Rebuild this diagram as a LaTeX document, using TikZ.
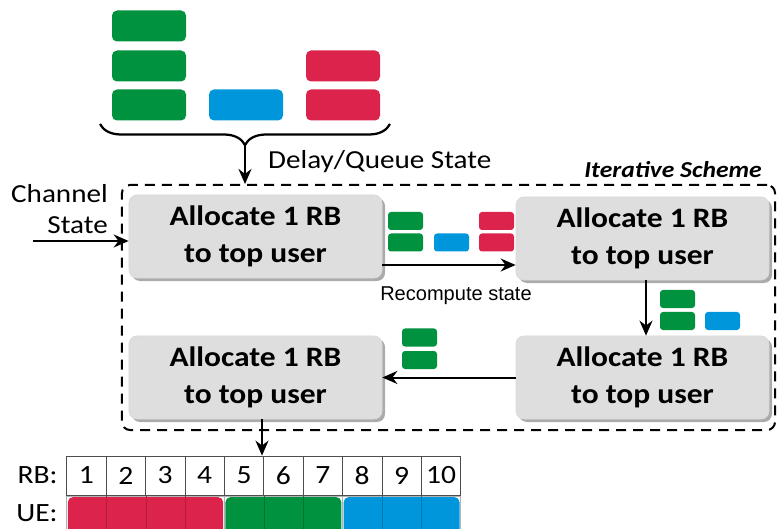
\documentclass[tikz,border=0pt]{standalone}
\usepackage{fontspec}
\setmainfont[FakeStretch=1.12]{Carlito}
\newfontfamily\arialfont{Liberation Sans}
\usetikzlibrary{positioning,arrows.meta,shadows,decorations.pathreplacing}
\definecolor{ugreen}{RGB}{0,146,63}
\definecolor{ublue}{RGB}{0,150,220}
\definecolor{ured}{RGB}{220,35,75}
\definecolor{boxgray}{RGB}{222,222,222}

\begin{document}
\begin{tikzpicture}
	[	x=0.2mm,y=-0.2mm,
	box/.style={rectangle,rounded corners=1.6mm,draw=gray!30,fill=boxgray,minimum width=50.6mm,minimum height=16.6mm,align=center,font=\fontsize{16}{20.8}\selectfont\bfseries,drop shadow={shadow xshift=0.6mm,shadow yshift=-0.6mm,fill=black!55,opacity=.6}},
	blk/.style={rectangle,rounded corners=1mm,minimum width=14.8mm,minimum height=6.2mm,inner sep=0pt},
	sblk/.style={rectangle,rounded corners=0.6mm,minimum width=7mm,minimum height=3.6mm,inner sep=0pt},
	cell/.style={rectangle,draw=gray!60!black,minimum width=7.88mm,minimum height=7.8mm,inner sep=0pt,font=\fontsize{15}{18}\selectfont},
	uecell/.style={rectangle,draw=gray!60,minimum width=7.88mm,minimum height=8mm,inner sep=0pt},
	plain/.style={draw=none,fill=none,font=\fontsize{14.8}{17.8}\selectfont},
	arr/.style={-{Stealth[length=3mm,width=2.6mm]},line width=0.4mm},
	frame/.style={draw,dash pattern=on 2mm off 1.4mm,line width=0.4mm,rounded corners=1.6mm,minimum width=130.6mm,minimum height=49mm}
	]
	\useasboundingbox (0,0) rectangle (777,529);

	% queue state on top
	\node[blk,fill=ugreen] (qg1) at (149,26){};
	\node[blk,fill=ugreen] (qg2) at (149,66){};
	\node[blk,fill=ugreen] (qg3) at (149,105){};
	\node[blk,fill=ublue] (qb1) at (246,105){};
	\node[blk,fill=ured] (qr1) at (343,66){};
	\node[blk,fill=ured] (qr2) at (343,105){};
	\coordinate (bl) at (100,124);
	\coordinate (br) at (390,124);
	\coordinate (tip) at (245,146);
	\draw[line width=0.45mm,decorate,decoration={brace,mirror,amplitude=4.2mm}] (bl) -- (br);

	\node[frame] (scheme) at (448.5,307.5){};
	\node[plain,anchor=west] (delay) at (262,162){Delay/Queue State};
	\node[plain,anchor=east,font=\fontsize{13}{15}\selectfont\bfseries\itshape] (iter) at (768,170){Iterative Scheme};
	\node[plain,anchor=east,align=right] (chan) at (114,209){Channel\\State};
	\coordinate (chin) at (33,241);

	\node[box] (box1) at (255.5,236.5){Allocate 1 RB\\to top user};
	\node[box] (box2) at (642.5,238.5){Allocate 1 RB\\to top user};
	\node[box] (box3) at (642.5,377.5){Allocate 1 RB\\to top user};
	\node[box] (box4) at (255.5,377.5){Allocate 1 RB\\to top user};

	% recomputed states
	\node[sblk,fill=ugreen] (ag1) at (405.5,221){};
	\node[sblk,fill=ugreen] (ag2) at (405.5,242.5){};
	\node[sblk,fill=ublue] (ab1) at (451.5,242.5){};
	\node[sblk,fill=ured] (ar1) at (496.5,221){};
	\node[sblk,fill=ured] (ar2) at (496.5,242.5){};
	\node[sblk,fill=ugreen] (bg1) at (677.5,299){};
	\node[sblk,fill=ugreen] (bg2) at (677.5,321){};
	\node[sblk,fill=ublue] (bb1) at (722.5,321){};
	\node[sblk,fill=ugreen] (cg1) at (419.5,337.5){};
	\node[sblk,fill=ugreen] (cg2) at (419.5,360){};
	\node[plain,font=\arialfont\fontsize{11.4}{13}\selectfont] (recomp) at (456,296){Recompute state};

	% resource blocks
	\node[cell] (rb1) at (86.4,475.5){1};
	\node[cell] (rb2) at (125.8,475.5){2};
	\node[cell] (rb3) at (165.2,475.5){3};
	\node[cell] (rb4) at (204.6,475.5){4};
	\node[cell] (rb5) at (244,475.5){5};
	\node[cell] (rb6) at (283.4,475.5){6};
	\node[cell] (rb7) at (322.8,475.5){7};
	\node[cell] (rb8) at (362.2,475.5){8};
	\node[cell] (rb9) at (401.6,475.5){9};
	\node[cell] (rb10) at (441,475.5){10};

	\node[uecell] (ue1) at (86.4,516){};
	\node[uecell] (ue2) at (125.8,516){};
	\node[uecell] (ue3) at (165.2,516){};
	\node[uecell] (ue4) at (204.6,516){};
	\node[uecell] (ue5) at (244,516){};
	\node[uecell] (ue6) at (283.4,516){};
	\node[uecell] (ue7) at (322.8,516){};
	\node[uecell] (ue8) at (362.2,516){};
	\node[uecell] (ue9) at (401.6,516){};
	\node[uecell] (ue10) at (441,516){};
	\fill[ured,rounded corners=1mm] ([xshift=0.3mm,yshift=-0.3mm]ue1.north west) rectangle ([xshift=-0.3mm]ue4.south east);
	\fill[ugreen,rounded corners=1mm] ([xshift=0.3mm,yshift=-0.3mm]ue5.north west) rectangle ([xshift=-0.3mm]ue7.south east);
	\fill[ublue,rounded corners=1mm] ([xshift=0.3mm,yshift=-0.3mm]ue8.north west) rectangle ([xshift=-0.3mm]ue10.south east);
	\draw[ured!80!black,line width=0.3pt] (ue1.north east) -- (ue1.south east);
	\draw[ured!80!black,line width=0.3pt] (ue2.north east) -- (ue2.south east);
	\draw[ured!80!black,line width=0.3pt] (ue3.north east) -- (ue3.south east);
	\draw[ugreen!80!black,line width=0.3pt] (ue5.north east) -- (ue5.south east);
	\draw[ugreen!80!black,line width=0.3pt] (ue6.north east) -- (ue6.south east);
	\draw[ublue!80!black,line width=0.3pt] (ue8.north east) -- (ue8.south east);
	\draw[ublue!80!black,line width=0.3pt] (ue9.north east) -- (ue9.south east);
	\node[plain,font=\fontsize{15}{18}\selectfont,left=0.5mm of rb1] (rblab){RB:};
	\node[plain,font=\fontsize{15}{18}\selectfont,left=0.5mm of ue1,yshift=0.5mm] (uelab){UE:};

	\draw[arr] (tip) -- (tip |- scheme.north);
	\draw[arr] (chin) -- (chin -| box1.west);
	\draw[arr] ([yshift=-5.7mm]box1.east) -- ([yshift=-5.7mm]box1.east -| box2.west);
	\draw[arr] ([xshift=0.7mm]box2.south) -- ([xshift=0.7mm]box2.south |- box3.north);
	\draw[arr] (box3.west) -- (box4.east);
	\draw[arr] ([xshift=1.3mm]box4.south) -- ([xshift=1.3mm]box4.south |- rb5.north);
\end{tikzpicture}
\end{document}
